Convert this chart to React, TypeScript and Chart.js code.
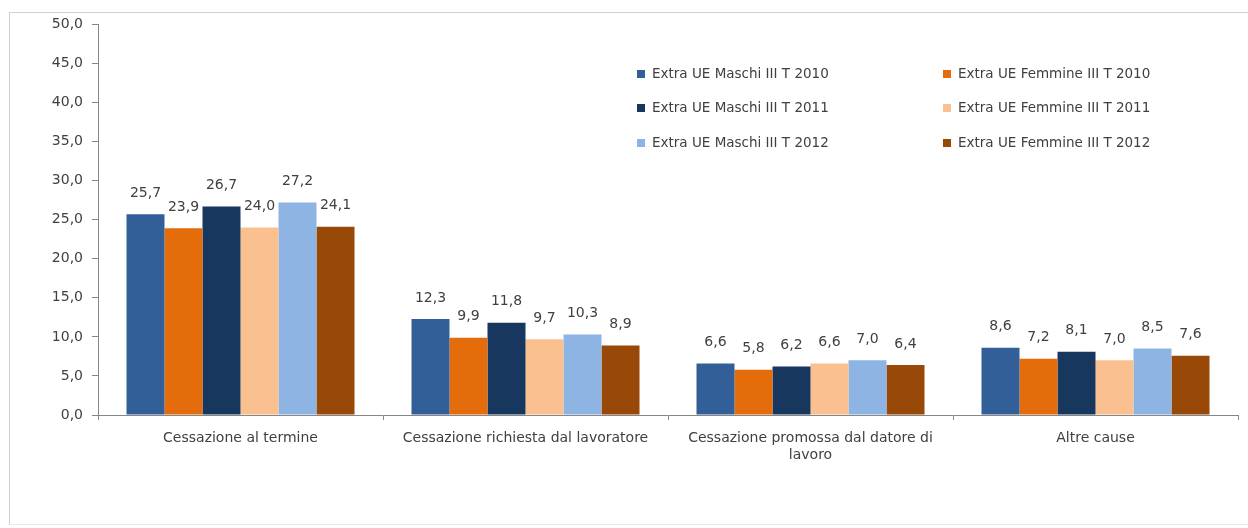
import React, { useEffect, useRef } from "react";
import { Chart, registerables } from "chart.js";

Chart.register(...registerables);

const categories: (string | string[])[] = [
  "Cessazione al termine",
  "Cessazione richiesta dal lavoratore",
  ["Cessazione promossa dal datore di", "lavoro"],
  "Altre cause",
];

const seriesNames = [
  "Extra UE Maschi III T 2010",
  "Extra UE Femmine III T 2010",
  "Extra UE Maschi III T 2011",
  "Extra UE Femmine III T 2011",
  "Extra UE Maschi III T 2012",
  "Extra UE Femmine III T 2012",
];

const maschi2010 = [25.7, 12.3, 6.6, 8.6];
const femmine2010 = [23.9, 9.9, 5.8, 7.2];
const maschi2011 = [26.7, 11.8, 6.2, 8.1];
const femmine2011 = [24.0, 9.7, 6.6, 7.0];
const maschi2012 = [27.2, 10.3, 7.0, 8.5];
const femmine2012 = [24.1, 8.9, 6.4, 7.6];

const seriesValues = [maschi2010, femmine2010, maschi2011, femmine2011, maschi2012, femmine2012];

const seriesColors = ["#335F98", "#E46C0A", "#17375E", "#FAC090", "#8EB4E3", "#984807"];

const FONT = '"DejaVu Sans", "Liberation Sans", Arial, sans-serif';
const TEXT = "#404040";

const fmt = (v: number) => v.toFixed(1).replace(".", ",");

const dataLabels = {
  id: "dataLabels",
  afterDatasetsDraw(chart: any) {
    const ctx = chart.ctx;
    ctx.save();
    ctx.font = `14px ${FONT}`;
    ctx.fillStyle = TEXT;
    ctx.textAlign = "center";
    ctx.textBaseline = "middle";
    chart.data.datasets.forEach((ds: any, i: number) => {
      const meta = chart.getDatasetMeta(i);
      meta.data.forEach((el: any, j: number) => {
        ctx.fillText(fmt(ds.data[j]), el.x, el.y - 21);
      });
    });
    ctx.restore();
  },
};

const customLegend = {
  id: "customLegend",
  afterDraw(chart: any) {
    const ctx = chart.ctx;
    ctx.save();
    ctx.font = `13.5px ${FONT}`;
    ctx.textBaseline = "middle";
    ctx.textAlign = "left";
    const colX = [627, 933];
    const rowY = [67, 101, 136];
    seriesNames.forEach((name, i) => {
      const x = colX[i % 2];
      const y = rowY[Math.floor(i / 2)];
      ctx.fillStyle = seriesColors[i];
      ctx.fillRect(x, y - 4, 8, 8);
      ctx.fillStyle = TEXT;
      ctx.fillText(name, x + 15, y);
    });
    ctx.restore();
  },
};

export default function App() {
  const ref = useRef<HTMLCanvasElement>(null);
  useEffect(() => {
    if (!ref.current) return;
    const chart = new Chart(ref.current, {
      type: "bar",
      data: {
        labels: categories,
        datasets: seriesNames.map((n, i) => ({
          label: n,
          data: seriesValues[i],
          backgroundColor: seriesColors[i],
          borderWidth: 0,
          categoryPercentage: 0.8,
          barPercentage: 1.0,
        })),
      },
      options: {
        animation: false,
        responsive: false,
        maintainAspectRatio: false,
        layout: { padding: { left: 0, right: 10, top: 4, bottom: 0 } },
        plugins: { legend: { display: false }, tooltip: { enabled: false } },
        scales: {
          x: {
            offset: true,
            grid: {
              offset: true,
              drawOnChartArea: false,
              drawTicks: true,
              tickLength: 5,
              color: "#868686",
            },
            border: { color: "#868686", width: 1 },
            ticks: {
              font: { family: FONT, size: 14 },
              color: TEXT,
              padding: 10,
              maxRotation: 0,
              autoSkip: false,
            },
            afterFit: (s: any) => {
              s.height = 108;
            },
          },
          y: {
            min: 0,
            max: 50,
            grid: { drawOnChartArea: false, tickLength: 6, color: "#868686" },
            border: { color: "#868686", width: 1 },
            ticks: {
              stepSize: 5,
              font: { family: FONT, size: 14 },
              color: TEXT,
              padding: 9,
              callback: (v: any) => fmt(Number(v)),
            },
            afterFit: (s: any) => {
              s.width = 88;
            },
          },
        },
      },
      plugins: [dataLabels, customLegend],
    });
    return () => chart.destroy();
  }, []);
  return (
    <div
      style={{
        position: "absolute",
        left: 9,
        top: 12,
        width: 1239,
        height: 511,
        borderTop: "1px solid #d0d0d0",
        borderLeft: "1px solid #d0d0d0",
        borderBottom: "1px solid #e8e8e8",
        background: "#fff",
      }}
    >
      <canvas
        ref={ref}
        width={1238}
        height={516}
        style={{ display: "block", marginTop: -6, position: "relative" }}
      />
    </div>
  );
}
